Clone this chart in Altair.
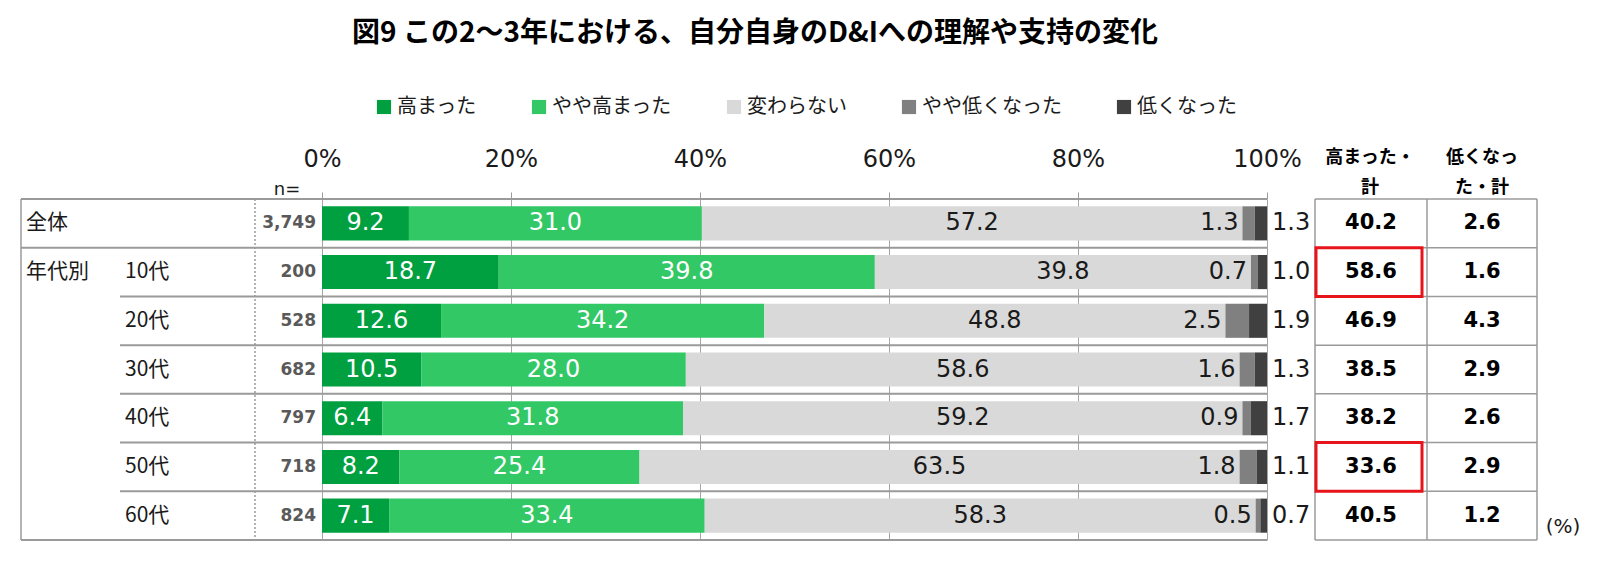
import altair as alt
import pandas as pd

TITLE = "図9 この2～3年における、自分自身のD&Iへの理解や支持の変化"
CATEGORIES = ["高まった", "やや高まった", "変わらない", "やや低くなった", "低くなった"]
COLORS = ["#00A040", "#33C866", "#D9D9D9", "#808080", "#404040"]
ROWS = ["全体", "10代", "20代", "30代", "40代", "50代", "60代"]
GROUP_LABEL = "年代別"
N_VALUES = ["3,749", "200", "528", "682", "797", "718", "824"]
TAKAMATTA = [9.2, 18.7, 12.6, 10.5, 6.4, 8.2, 7.1]
YAYA_TAKAMATTA = [31.0, 39.8, 34.2, 28.0, 31.8, 25.4, 33.4]
KAWARANAI = [57.2, 39.8, 48.8, 58.6, 59.2, 63.5, 58.3]
YAYA_HIKUKU = [1.3, 0.7, 2.5, 1.6, 0.9, 1.8, 0.5]
HIKUKU = [1.3, 1.0, 1.9, 1.3, 1.7, 1.1, 0.7]
HIGH_TOTAL = [40.2, 58.6, 46.9, 38.5, 38.2, 33.6, 40.5]
LOW_TOTAL = [2.6, 1.6, 4.3, 2.9, 2.6, 2.9, 1.2]
HIGHLIGHT = ["10代", "50代"]
TICKS = [0, 20, 40, 60, 80, 100]
HEADER_HIGH = ["高まった・", "計"]
HEADER_LOW = ["低くなっ", "た・計"]
N_LABEL = "n="
UNIT = "(%)"

# ---------- layout constants (pixels, relative to plot area) ----------
WIDTH = 1584
HEIGHT = 341
PX_PER_PCT = 9.45
X0_PX = 314.0  # pixel of 0%
DOMAIN = [-X0_PX / PX_PER_PCT, (WIDTH - X0_PX) / PX_PER_PCT]
NROW = len(ROWS)

JP = "Noto Sans CJK JP"
NUM = "DejaVu Sans"
TXT = "#1a1a1a"
LINE = "#9a9a9a"

# ---------- tables ----------
series = [TAKAMATTA, YAYA_TAKAMATTA, KAWARANAI, YAYA_HIKUKU, HIKUKU]
recs = []
for i, r in enumerate(ROWS):
    cum = 0.0
    for k, c in enumerate(CATEGORIES):
        v = series[k][i]
        recs.append({"row": r, "idx": i, "cat": c, "order": k, "value": v,
                     "start": cum, "end": cum + v, "mid": cum + v / 2,
                     "label": f"{v:.1f}"})
        cum += v
seg = pd.DataFrame(recs)

rows = pd.DataFrame({
    "row": ROWS, "idx": list(range(NROW)), "n": N_VALUES,
    "hi": [f"{v:.1f}" for v in HIGH_TOTAL], "lo": [f"{v:.1f}" for v in LOW_TOTAL],
})
rows["ymid"] = rows["idx"] + 0.5
rows["idx1"] = rows["idx"] + 1
bounds = pd.DataFrame({"b": list(range(NROW + 1))})
hl = rows[rows["row"].isin(HIGHLIGHT)]
group = pd.DataFrame({"g": [GROUP_LABEL], "ymid": [ROWS.index("10代") + 0.5]})
dummy = pd.DataFrame({"a": [0]})

yscale = alt.Scale(domain=[0, NROW], reverse=True, nice=False, zero=False)
xscale = alt.Scale(domain=DOMAIN, nice=False, zero=False)
xaxis = alt.Axis(values=TICKS, orient="top", title=None, domain=False,
                 labelExpr="datum.value + '%'", labelFont=NUM, labelFontSize=24,
                 labelColor=TXT, labelPadding=21, tickSize=7, tickColor=LINE,
                 grid=True, gridColor="#a6a6a6", gridWidth=1)


def X(field):
    return alt.X(field, type="quantitative", scale=xscale, axis=xaxis)


def Y(field):
    return alt.Y(field, type="quantitative", scale=yscale, axis=None)


# ---------- decoration lines ----------
full_b = bounds[bounds["b"].isin([0, 1, NROW])]
part_b = bounds[~bounds["b"].isin([0, 1, NROW])]
h_full = alt.Chart(full_b).mark_rule(color=LINE, strokeWidth=2).encode(
    y=Y("b"), x=alt.value(13), x2=alt.value(X0_PX + 100 * PX_PER_PCT))
h_part = alt.Chart(part_b).mark_rule(color=LINE, strokeWidth=2).encode(
    y=Y("b"), x=alt.value(112), x2=alt.value(X0_PX + 100 * PX_PER_PCT))
h_right = alt.Chart(bounds).mark_rule(color=LINE, strokeWidth=1.5).encode(
    y=Y("b"), x=alt.value(1307), x2=alt.value(1529))

vlines = []
for px, dash in [(13, None), (247, [2, 2]), (1307, None), (1419, None), (1529, None)]:
    kw = {"color": LINE, "strokeWidth": 1.5}
    if dash:
        kw["strokeDash"] = dash
    vlines.append(alt.Chart(dummy).mark_rule(**kw).encode(
        x=alt.value(px), y=alt.value(0), y2=alt.value(HEIGHT)))

# ---------- bars ----------
bars = alt.Chart(seg).transform_calculate(
    y0="datum.idx + 0.15", y1="datum.idx + 0.85"
).mark_bar(cornerRadius=0).encode(
    x=X("start"), x2="end",
    y=Y("y0:Q"), y2="y1:Q",
    color=alt.Color("cat:N", scale=alt.Scale(domain=CATEGORIES, range=COLORS),
                    legend=alt.Legend(title=None, orient="none", direction="horizontal",
                                      legendX=366, legendY=-102, symbolType="square",
                                      symbolSize=200, symbolStrokeWidth=0,
                                      labelFont=JP, labelFontSize=20, labelColor=TXT,
                                      labelOffset=3, columnPadding=52, padding=0)),
    order=alt.Order("order:Q"),
)

seg_base = alt.Chart(seg).transform_calculate(ym="datum.idx + 0.5")
lab_white = seg_base.transform_filter(alt.datum.order <= 1).mark_text(
    font=NUM, fontSize=24, color="white", baseline="middle", align="center"
).encode(x=X("mid"), y=Y("ym:Q"), text="label:N")
lab_mid = seg_base.transform_filter(alt.datum.order == 2).mark_text(
    font=NUM, fontSize=24, color=TXT, baseline="middle", align="center"
).encode(x=X("mid"), y=Y("ym:Q"), text="label:N")
lab_yaya = seg_base.transform_filter(alt.datum.order == 3).mark_text(
    font=NUM, fontSize=24, color=TXT, baseline="middle", align="right", dx=-4
).encode(x=X("start"), y=Y("ym:Q"), text="label:N")
lab_low = seg_base.transform_filter(alt.datum.order == 4).mark_text(
    font=NUM, fontSize=24, color=TXT, baseline="middle", align="left", dx=5
).encode(x=X("end"), y=Y("ym:Q"), text="label:N")

# ---------- left table ----------
row0 = alt.Chart(rows[rows["idx"] == 0]).mark_text(
    font=JP, fontSize=21, color=TXT, align="left", baseline="middle"
).encode(x=alt.value(18), y=Y("ymid"), text="row:N")
ages = alt.Chart(rows[rows["idx"] > 0]).mark_text(
    font=JP, fontSize=21, color=TXT, align="left", baseline="middle"
).encode(x=alt.value(117), y=Y("ymid"), text="row:N")
grp = alt.Chart(group).mark_text(
    font=JP, fontSize=21, color=TXT, align="left", baseline="middle"
).encode(x=alt.value(18), y=Y("ymid"), text="g:N")
nvals = alt.Chart(rows).mark_text(
    font=NUM, fontSize=17, fontWeight="bold", color="#595959", align="right", baseline="middle"
).encode(x=alt.value(308), y=Y("ymid"), text="n:N")
nlab = alt.Chart(dummy).mark_text(
    font=NUM, fontSize=18, color=TXT, align="center", baseline="middle", text=N_LABEL
).encode(x=alt.value(279), y=alt.value(-9))

# ---------- right table ----------
hi_vals = alt.Chart(rows).mark_text(
    font=NUM, fontSize=21, fontWeight="bold", color="#000", align="center", baseline="middle"
).encode(x=alt.value(1363), y=Y("ymid"), text="hi:N")
lo_vals = alt.Chart(rows).mark_text(
    font=NUM, fontSize=21, fontWeight="bold", color="#000", align="center", baseline="middle"
).encode(x=alt.value(1474), y=Y("ymid"), text="lo:N")
head_hi = alt.Chart(dummy).mark_text(
    font=JP, fontSize=18, fontWeight="bold", color="#000", align="center",
    baseline="middle", lineHeight=30, text=HEADER_HIGH
).encode(x=alt.value(1362), y=alt.value(-41))
head_lo = alt.Chart(dummy).mark_text(
    font=JP, fontSize=18, fontWeight="bold", color="#000", align="center",
    baseline="middle", lineHeight=30, text=HEADER_LOW
).encode(x=alt.value(1474), y=alt.value(-41))
unit = alt.Chart(dummy).mark_text(
    font=NUM, fontSize=20, color=TXT, align="center", baseline="middle", text=UNIT
).encode(x=alt.value(1555), y=alt.value(328))

redbox = alt.Chart(hl).mark_rect(
    fill="transparent", stroke="#e8141c", strokeWidth=3
).encode(x=alt.value(1308), x2=alt.value(1414), y=Y("idx"), y2="idx1:Q")

chart = alt.layer(
    *vlines, h_full, h_part, h_right, bars, lab_white, lab_mid, lab_yaya, lab_low,
    row0, ages, grp, nvals, nlab, hi_vals, lo_vals, head_hi, head_lo, unit, redbox
).properties(
    width=WIDTH, height=HEIGHT,
    padding={"left": 0, "right": 0, "top": 12, "bottom": 0},
    title=alt.TitleParams(TITLE, font=JP, fontSize=28, fontWeight="bold", color="#000",
                          anchor="middle", dx=-45, offset=49),
).configure_view(stroke=None)

chart.save("out.html", embed_options={"renderer": "svg", "actions": False})
